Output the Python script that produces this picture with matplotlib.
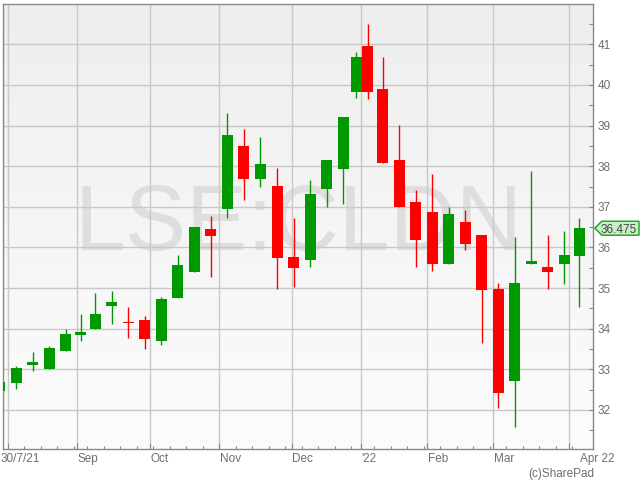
import numpy as np
import matplotlib
matplotlib.use("Agg")
import matplotlib.pyplot as plt
import matplotlib.transforms as mtransforms
from matplotlib.patches import Polygon
from matplotlib.colors import LinearSegmentedColormap

plt.rcParams['font.family'] = ['Liberation Sans', 'DejaVu Sans']

# ---- data -------------------------------------------------------------
ticker = "LSE:CLDN"
holidays = ['2021-08-30', '2021-12-27', '2021-12-28', '2022-01-03']
origin = '2021-07-26'
last_day = '2022-04-07'
week_starts = np.arange(np.datetime64('2021-07-26'), np.datetime64('2022-04-05'), 7)

opens = [32.47, 32.67, 33.11, 33.02, 33.46, 33.85, 34.00, 34.56, 34.17, 34.21,
         33.70, 34.76, 35.40, 36.45, 36.95, 38.50, 37.69, 37.51, 35.76, 35.70,
         37.44, 37.93, 39.83, 40.96, 39.90, 38.15, 37.12, 36.87, 35.60, 36.63,
         36.31, 34.98, 32.72, 35.60, 35.52, 35.60, 35.80]
highs = [32.75, 33.08, 33.43, 33.57, 34.00, 34.36, 34.87, 34.94, 34.53, 34.31,
         34.78, 35.81, 36.50, 36.77, 39.30, 38.91, 38.71, 37.95, 36.72, 37.65,
         38.15, 39.21, 40.81, 41.50, 40.68, 39.01, 37.41, 37.81, 37.00, 36.92,
         36.31, 35.13, 36.25, 37.89, 36.30, 36.40, 36.72]
lows = [32.40, 32.52, 32.97, 33.00, 33.46, 33.70, 34.00, 34.12, 33.77, 33.51,
        33.61, 34.75, 35.40, 35.27, 36.72, 37.16, 37.50, 34.97, 35.02, 35.51,
        37.00, 37.06, 39.69, 39.65, 38.09, 37.00, 35.51, 35.41, 35.60, 35.94,
        33.66, 32.06, 31.57, 35.60, 34.97, 35.11, 34.53]
closes = [32.69, 33.03, 33.18, 33.53, 33.87, 33.92, 34.36, 34.66, 34.14, 33.75,
          34.73, 35.57, 36.50, 36.29, 38.77, 37.69, 38.05, 35.75, 35.50, 37.32,
          38.15, 39.21, 40.69, 39.83, 38.09, 37.00, 36.19, 35.60, 36.82, 36.09,
          34.96, 32.43, 35.13, 35.67, 35.40, 35.81, 36.475]
last_price = 36.475

tick_dates = ['2021-08-02', '2021-09-01', '2021-10-01', '2021-11-01', '2021-12-01',
              '2022-01-01', '2022-02-01', '2022-03-01', '2022-04-01']
tick_labels = ['30/7/21', 'Sep', 'Oct', 'Nov', 'Dec', "'22", 'Feb', 'Mar', 'Apr 22']
y_ticks = [32, 33, 34, 35, 36, 37, 38, 39, 40, 41]

# ---- trading-day axis --------------------------------------------------
def pos(d):
    return np.busday_count(origin, d, holidays=holidays)

end_excl = np.datetime64(last_day) + 1
centers = []
for s in week_starts:
    e = min(s + 7, end_excl)
    centers.append((pos(s) + pos(e)) / 2.0)
centers = np.array(centers)
minor_pos = [pos(s) for s in week_starts]
major_pos = [pos(d) for d in tick_dates]

o = np.array(opens); c = np.array(closes)
h = np.array(highs); l = np.array(lows)
up = c >= o
GREEN = '#009900'
RED = '#ff0000'
colors = np.where(up, GREEN, RED)

fig = plt.figure(figsize=(6.4, 4.8), dpi=100)
ax = fig.add_axes([3.3 / 640, 1 - 449 / 480, 590 / 640, 445.3 / 480])

# background gradient
grad = np.linspace(0, 1, 256).reshape(-1, 1)
bg_cmap = LinearSegmentedColormap.from_list('bg', ['#eeeeee', '#fcfcfc'])
ax.imshow(grad, extent=[0, 1, 0, 1], transform=ax.transAxes, aspect='auto',
          cmap=bg_cmap, zorder=0, origin='upper')

# watermark
ax.text(0.5, (449 - 250) / 445.3, ticker, transform=ax.transAxes, ha='center',
        va='baseline', fontsize=66, color='#dedede', zorder=0.2)

# candles
body_w = 3.33
bottoms = np.minimum(o, c)
heights = np.maximum(np.abs(c - o), 0.025)
ax.vlines(centers, l, h, colors=colors, lw=1.0, zorder=2)
ax.bar(centers, heights, bottom=bottoms, width=body_w, color=colors,
       edgecolor='none', zorder=3)

# axes styling
ax.set_axisbelow(True)
ax.yaxis.tick_right()
ax.set_yticks(y_ticks)
ax.set_yticks(np.arange(31.5, 42.0, 1.0), minor=True)
ax.set_xticks(major_pos)
ax.set_xticks(minor_pos, minor=True)
ax.set_xticklabels([])
ax.set_xlim(3.6, 182.3)
ax.set_ylim(31.04, 42.0)
ax.grid(True, which='major', color='#c8c8c8', lw=1.0)
ax.tick_params(axis='both', which='both', direction='in', color='#888888')
ax.tick_params(axis='x', which='major', length=4.2, width=0.8)
ax.tick_params(axis='x', which='minor', length=2.4, width=0.8)
ax.tick_params(axis='y', which='both', length=3, width=0.8, labelsize=8.5,
               labelcolor='#6e6e6e', pad=3, right=True, left=False)
for sp in ax.spines.values():
    sp.set_color('#888888')
    sp.set_linewidth(1.0)

# x labels
base = mtransforms.blended_transform_factory(ax.transData, ax.transAxes)
offsets = {0: -7.3, len(tick_labels) - 1: 10.7}
for i, (p, lab) in enumerate(zip(major_pos, tick_labels)):
    dx = offsets.get(i, 0.3)
    tr = base + mtransforms.ScaledTranslation(dx / 100, -4.0 / 100, fig.dpi_scale_trans)
    ax.text(p, 0, lab, transform=tr, ha='left', va='top', fontsize=8.5,
            color='#6e6e6e', clip_on=False)

# last price label
fig.canvas.draw()
x0, yp = ax.transData.transform((ax.get_xlim()[1], last_price))
x0 += 1.5
hh = 7.0
pts = [(x0, yp), (x0 + 7, yp + hh), (639, yp + hh), (639, yp - hh), (x0 + 7, yp - hh)]
poly = Polygon(pts, closed=True, transform=None, facecolor='#c9efc9',
               edgecolor='#009900', lw=0.9, clip_on=False, zorder=5)
fig.patches.append(poly)
fig.text((x0 + 4 + 639) / 2 / 640, yp / 480, f"{last_price:.3f}", ha='center',
         va='center_baseline', fontsize=8.5, color='#444444', zorder=6)

fig.text(594 / 640, 1 - 468 / 480, '(c)SharePad', ha='right', va='top',
         fontsize=8.5, color='#6e6e6e')

fig.savefig('out.png', dpi=100)
